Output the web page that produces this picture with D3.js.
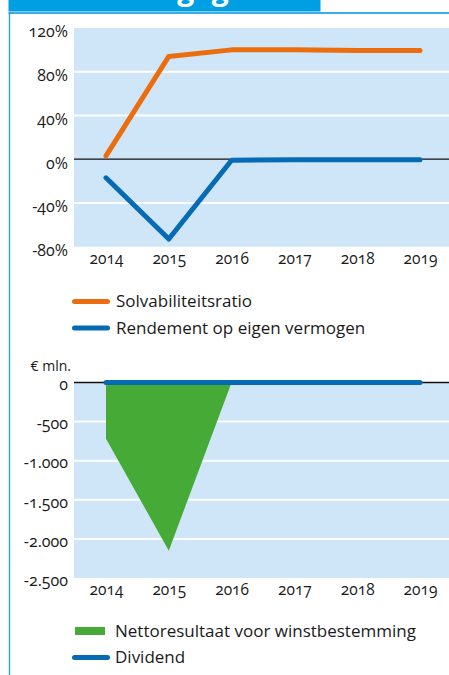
<!DOCTYPE html>
<html>
<head>
<meta charset="utf-8">
<script src="https://cdn.jsdelivr.net/npm/d3@7/dist/d3.min.js"></script>
<style>
  html, body { margin: 0; padding: 0; background: #fff; }
  svg { display: block; font-family: "Open Sans", "DejaVu Sans", sans-serif; }
  .tick text { fill: #1a1a1a; font-variant-numeric: oldstyle-nums; }
  .yaxis .tick text { font-size: 16px; }
  .xaxis .tick text { font-size: 15.5px; }
  .legend text { font-size: 17px; fill: #1a1a1a; }
</style>
</head>
<body>
<svg id="chart" width="449" height="675"></svg>
<script>
// Years on the horizontal axis of both panels
const years = ["2014", "2015", "2016", "2017", "2018", "2019"];

// Upper panel: ratios in percent
const solvabiliteitsratio = [3, 94, 100, 100, 99.5, 99.5];
const rendementEigenVermogen = [-17, -73, -1, -0.5, -0.5, -0.5];
const pctTicks = [120, 80, 40, 0, -40, -80];

// Lower panel: amounts in € million
const nettoresultaat = [-720, -2150, 0, 0, 0, 0];
const dividend = [0, 0, 0, 0, 0, 0];
const mlnTicks = [0, -500, -1000, -1500, -2000, -2500];

const colors = {
  bar: "#009fe3",
  frame: "#3aaee6",
  plotBg: "#cee6f8",
  grid: "#ffffff",
  orange: "#ec6d0e",
  blue: "#066bb3",
  green: "#46ab36",
  zero: "#111111"
};

const svg = d3.select("#chart");
const nl = d3.formatLocale({ decimal: ",", thousands: ".", grouping: [3], currency: ["€", ""], minus: "-" });
const fmtMln = nl.format(",d");

// Section header (only its lowest strip falls inside the page) and frame
svg.append("rect").attr("x", 8.5).attr("y", 0).attr("width", 312).attr("height", 11.5).attr("fill", colors.bar);
svg.append("text")
  .attr("x", 17).attr("y", -0.5)
  .attr("fill", "#fff")
  .attr("font-size", 30).attr("font-weight", 700)
  .text("Financiële gegevens");
svg.append("line").attr("x1", 8.5).attr("x2", 449).attr("y1", 13).attr("y2", 13)
  .attr("stroke", colors.frame).attr("stroke-width", 2);
svg.append("line").attr("x1", 9.5).attr("x2", 9.5).attr("y1", 12).attr("y2", 675)
  .attr("stroke", "#1c9fe0").attr("stroke-width", 1.3);

const plotLeft = 74, plotRight = 449;
const x = d3.scalePoint().domain(years).range([plotLeft + 32, plotRight - 29]);

function panel(cfg) {
  const g = svg.append("g");
  const y = d3.scaleLinear().domain(cfg.domain).range([cfg.bottom, cfg.top]);
  g.append("rect")
    .attr("x", plotLeft).attr("y", y(cfg.domain[1]))
    .attr("width", plotRight - plotLeft).attr("height", y(cfg.domain[0]) - y(cfg.domain[1]))
    .attr("fill", colors.plotBg);
  // white gridlines
  g.selectAll(".grid").data(cfg.ticks.filter(t => t !== 0 && t !== cfg.domain[0] && t !== cfg.domain[1]))
    .join("line")
    .attr("x1", plotLeft).attr("x2", plotRight)
    .attr("y1", d => y(d)).attr("y2", d => y(d))
    .attr("stroke", colors.grid).attr("stroke-width", 2);
  // y axis labels
  const ya = g.append("g").attr("class", "yaxis").attr("transform", `translate(${plotLeft},0)`)
    .call(d3.axisLeft(y).tickValues(cfg.ticks).tickSize(0).tickPadding(6).tickFormat(cfg.format));
  ya.select(".domain").remove();
  ya.attr("font-family", null).attr("font-size", null);
  ya.selectAll("text").attr("dy", cfg.labelDy);
  // x axis labels
  const xa = g.append("g").attr("class", "xaxis").attr("transform", `translate(0,${cfg.bottom})`)
    .call(d3.axisBottom(x).tickSize(0).tickPadding(cfg.xPad));
  xa.select(".domain").remove();
  xa.attr("font-family", null).attr("font-size", null);
  return { g, y };
}

// ---- Upper panel: percentages
const upper = panel({
  domain: [-80, 120], top: 28, bottom: 246.7, ticks: pctTicks,
  format: d => d + "%", labelDy: "0.55em", xPad: 6.5
});
upper.g.append("line").attr("x1", plotLeft).attr("x2", plotRight)
  .attr("y1", upper.y(0)).attr("y2", upper.y(0))
  .attr("stroke", colors.zero).attr("stroke-width", 1.3);
const lineUpper = d3.line().x((d, i) => x(years[i])).y(d => upper.y(d));
[[rendementEigenVermogen, colors.blue], [solvabiliteitsratio, colors.orange]].forEach(([vals, c]) => {
  upper.g.append("path").datum(vals).attr("d", lineUpper)
    .attr("fill", "none").attr("stroke", c).attr("stroke-width", 5)
    .attr("stroke-linecap", "round").attr("stroke-linejoin", "round");
});

// ---- Lower panel: € mln
svg.append("text").attr("x", 71).attr("y", 371).attr("text-anchor", "end")
  .attr("font-size", 14).attr("fill", "#1a1a1a").text("€ mln.");
const lower = panel({
  domain: [-2500, 0], top: 382.5, bottom: 578, ticks: mlnTicks,
  format: d => fmtMln(d), labelDy: "0.45em", xPad: 6
});
lower.g.append("path").datum(nettoresultaat)
  .attr("d", d3.area().x((d, i) => x(years[i])).y0(lower.y(0)).y1(d => lower.y(d)))
  .attr("fill", colors.green);
lower.g.append("line").attr("x1", plotLeft).attr("x2", plotRight)
  .attr("y1", lower.y(0)).attr("y2", lower.y(0))
  .attr("stroke", colors.zero).attr("stroke-width", 1.3);
lower.g.append("path").datum(dividend)
  .attr("d", d3.line().x((d, i) => x(years[i])).y(d => lower.y(d)))
  .attr("fill", "none").attr("stroke", colors.blue).attr("stroke-width", 5)
  .attr("stroke-linecap", "round");

// ---- Legends
function legend(items, y0, step) {
  const lg = svg.append("g").attr("class", "legend");
  items.forEach((it, i) => {
    const yy = y0 + i * step;
    if (it.type === "area") {
      lg.append("rect").attr("x", 75).attr("y", yy - 4).attr("width", 30).attr("height", 8).attr("fill", it.color);
    } else {
      lg.append("line").attr("x1", 74.5).attr("x2", 107.5).attr("y1", yy).attr("y2", yy)
        .attr("stroke", it.color).attr("stroke-width", 5).attr("stroke-linecap", "round");
    }
    lg.append("text").attr("x", it.tx).attr("y", yy).attr("dy", "0.35em").text(it.label);
  });
}
legend([
  { label: "Solvabiliteitsratio", color: colors.orange, type: "line", tx: 116 },
  { label: "Rendement op eigen vermogen", color: colors.blue, type: "line", tx: 116 }
], 301.5, 26.5);
legend([
  { label: "Nettoresultaat voor winstbestemming", color: colors.green, type: "area", tx: 115 },
  { label: "Dividend", color: colors.blue, type: "line", tx: 115 }
], 631, 26.5);
</script>
</body>
</html>
